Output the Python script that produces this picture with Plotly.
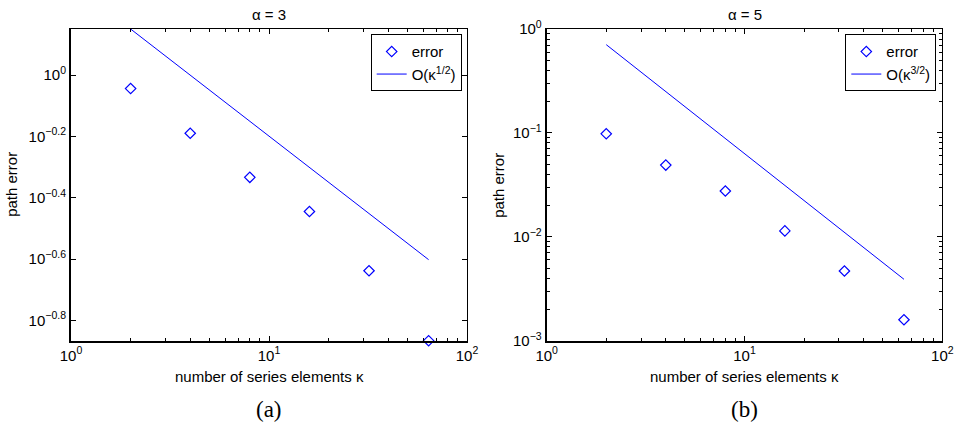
import plotly.graph_objects as go
import numpy as np

# ---- data ----
kappa = [2, 4, 8, 16, 32, 64]
err_a = [0.904, 0.646, 0.464, 0.359, 0.230, 0.136]
ref_a = [1.414, 1.0, 0.707, 0.5, 0.354, 0.25]          # O(kappa^-1/2) reference line
err_b = [0.098, 0.049, 0.0276, 0.0114, 0.00469, 0.00159]
ref_b = [0.707, 0.25, 0.0884, 0.03125, 0.01105, 0.0039]  # O(kappa^-3/2) reference line

titles = ["α = 3", "α = 5"]
captions = ["(a)", "(b)"]
legend_line_labels = ["O(κ<sup>1/2</sup>)", "O(κ<sup>3/2</sup>)"]

xtick_vals = [1, 10, 100]
xtick_text = ["10<sup>0</sup>", "10<sup>1</sup>", "10<sup>2</sup>"]
ytick_exp_a = [0, -0.2, -0.4, -0.6, -0.8]
ytick_text_a = ["10<sup>0</sup>", "10<sup>−0.2</sup>", "10<sup>−0.4</sup>", "10<sup>−0.6</sup>", "10<sup>−0.8</sup>"]
ytick_vals_b = [1, 0.1, 0.01, 0.001]
ytick_text_b = ["10<sup>0</sup>", "10<sup>−1</sup>", "10<sup>−2</sup>", "10<sup>−3</sup>"]

BLUE = "#0000FF"
FONT = "Liberation Sans, Arial, Helvetica, sans-serif"
FS = 15
W, H = 954, 424

x_minor = [m * d for d in (1, 10) for m in range(2, 10)]
y_minor_b = [m * d for d in (0.001, 0.01, 0.1) for m in range(2, 10)]

# domains (pixels -> paper)
dom_x = [[71 / W, 467 / W], [546.7 / W, 942.3 / W]]
dom_y = [1 - 340.7 / H, 1 - 29 / H]

fig = go.Figure()

panels = [
    dict(err=err_a, ref=ref_a, yrange=[np.log10(min(err_a)), np.log10(max(ref_a))],
         ytv=[10 ** e for e in ytick_exp_a], ytt=ytick_text_a, yminor=None),
    dict(err=err_b, ref=ref_b, yrange=[-3, 0],
         ytv=ytick_vals_b, ytt=ytick_text_b, yminor=y_minor_b),
]

for i, p in enumerate(panels):
    n = i + 1
    xa = "x" if n == 1 else f"x{n}"
    ya = "y" if n == 1 else f"y{n}"
    leg = "legend" if n == 1 else f"legend{n}"
    fig.add_trace(go.Scatter(x=kappa, y=p["err"], mode="markers", name="error",
                             marker=dict(symbol="diamond-open", size=8, color=BLUE, line=dict(width=1.2)),
                             xaxis=xa, yaxis=ya, legend=leg, cliponaxis=False))
    fig.add_trace(go.Scatter(x=kappa, y=p["ref"], mode="lines", name=legend_line_labels[i],
                             line=dict(color=BLUE, width=1),
                             xaxis=xa, yaxis=ya, legend=leg, cliponaxis=False))

layout = dict(template="none", width=W, height=H, margin=dict(l=0, r=0, t=0, b=0, pad=0, autoexpand=False),
              paper_bgcolor="white", plot_bgcolor="white",
              font=dict(family=FONT, size=FS, color="black"), showlegend=True)

tickfont = dict(family=FONT, size=FS, color="black")
for i, p in enumerate(panels):
    n = i + 1
    xk = "xaxis" if n == 1 else f"xaxis{n}"
    yk = "yaxis" if n == 1 else f"yaxis{n}"
    ya_id = "y" if n == 1 else f"y{n}"
    xa_id = "x" if n == 1 else f"x{n}"
    layout[xk] = dict(type="log", range=[0, 2], domain=dom_x[i], anchor=ya_id, automargin=False,
                      showline=True, linecolor="black", linewidth=2, mirror=False,
                      ticks="inside", ticklen=5, tickcolor="black", tickwidth=1,
                      tickmode="array", tickvals=xtick_vals, ticktext=xtick_text,
                      minor=dict(ticks="inside", ticklen=3, tickcolor="black", tickvals=x_minor, showgrid=False),
                      showgrid=False, zeroline=False, tickfont=tickfont)
    ydict = dict(type="log", range=p["yrange"], domain=dom_y, anchor=xa_id, automargin=False,
                 showline=True, linecolor="black", linewidth=2, mirror=False,
                 ticks="inside", ticklen=5, tickcolor="black", tickwidth=1,
                 tickmode="array", tickvals=p["ytv"], ticktext=p["ytt"],
                 showgrid=False, zeroline=False, tickfont=tickfont)
    if p["yminor"]:
        ydict["minor"] = dict(ticks="inside", ticklen=3, tickcolor="black", tickvals=p["yminor"], showgrid=False)
    layout[yk] = ydict
    # mirrored top / right axes (thinner lines, ticks, no labels)
    tx = f"xaxis{n + 2}"
    ty = f"yaxis{n + 2}"
    layout[tx] = dict(type="log", range=[0, 2], overlaying=xa_id, side="top", anchor=ya_id, automargin=False,
                      showline=True, linecolor="black", linewidth=1,
                      ticks="inside", ticklen=5, tickcolor="black",
                      tickmode="array", tickvals=xtick_vals, showticklabels=False,
                      minor=dict(ticks="inside", ticklen=3, tickcolor="black", tickvals=x_minor, showgrid=False),
                      showgrid=False, zeroline=False)
    tdict = dict(type="log", range=p["yrange"], overlaying=ya_id, side="right", anchor=xa_id, automargin=False,
                 showline=True, linecolor="black", linewidth=1,
                 ticks="inside", ticklen=5, tickcolor="black",
                 tickmode="array", tickvals=p["ytv"], showticklabels=False,
                 showgrid=False, zeroline=False)
    if p["yminor"]:
        tdict["minor"] = dict(ticks="inside", ticklen=3, tickcolor="black", tickvals=p["yminor"], showgrid=False)
    layout[ty] = tdict

# dummy invisible traces to bind overlay axes
for n in (1, 2):
    fig.add_trace(go.Scatter(x=[1], y=[0.5 if n == 1 else 0.01], mode="markers",
                             marker=dict(opacity=0), showlegend=False, hoverinfo="skip",
                             xaxis=f"x{n + 2}", yaxis=f"y{n + 2}"))

leg_common = dict(bgcolor="white", bordercolor="black", borderwidth=1,
                  font=dict(family=FONT, size=FS, color="black"),
                  xanchor="right", yanchor="top", itemwidth=30,
                  tracegroupgap=0)
layout["legend"] = dict(x=461.7 / W, y=1 - 34.3 / H, **leg_common)
layout["legend2"] = dict(x=936.3 / W, y=1 - 34.3 / H, **leg_common)

fig.update_layout(**layout)

# titles, axis titles, captions
ann = []
for i in range(2):
    cx = (dom_x[i][0] + dom_x[i][1]) / 2
    ann.append(dict(x=cx, y=1 - 15 / H, xref="paper", yref="paper", text=titles[i],
                    showarrow=False, font=dict(family=FONT, size=FS), xanchor="center", yanchor="middle"))
    ann.append(dict(x=cx, y=1 - 376 / H, xref="paper", yref="paper", text="number of series elements κ",
                    showarrow=False, font=dict(family=FONT, size=FS), xanchor="center", yanchor="middle"))
    ann.append(dict(x=cx, y=1 - 409 / H, xref="paper", yref="paper", text=captions[i],
                    showarrow=False, font=dict(family="Liberation Serif, DejaVu Serif, serif", size=23),
                    xanchor="center", yanchor="middle"))
ylab_x = [12 / W, 499 / W]
for i in range(2):
    ann.append(dict(x=ylab_x[i], y=(dom_y[0] + dom_y[1]) / 2, xref="paper", yref="paper", text="path error",
                    showarrow=False, textangle=-90, font=dict(family=FONT, size=FS),
                    xanchor="center", yanchor="middle"))
fig.update_layout(annotations=ann)

fig.write_html("out.html",
               config={"displayModeBar": False},
               post_script="document.body.style.margin='0';document.body.style.padding='0';"
                           "document.body.style.overflow='hidden';")
